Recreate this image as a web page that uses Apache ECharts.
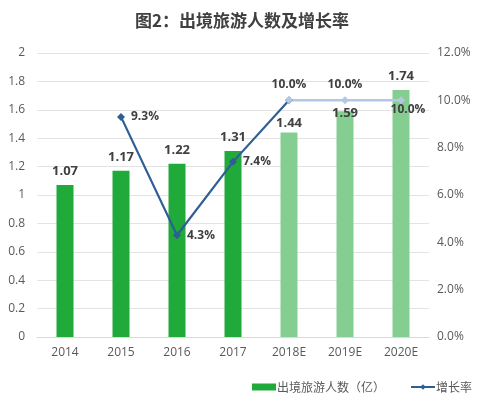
<!DOCTYPE html>
<html><head><meta charset="utf-8">
<script src="https://cdn.jsdelivr.net/npm/echarts@6/dist/echarts.min.js"></script>
<style>html,body{margin:0;padding:0;background:#fff}#c{width:484px;height:401px}</style>
</head><body><div id="c"></div>
<script>
var categories = ['2014','2015','2016','2017','2018E','2019E','2020E'];
var travelers = [1.07, 1.17, 1.22, 1.31, 1.44, 1.59, 1.74];
var growthActual = [null, 9.3, 4.3, 7.4, 10.0, null, null];
var growthForecast = [null, null, null, null, 10.0, 10.0, 10.0];
var forecastFrom = 4;

var font = '"Open Sans","Noto Sans CJK SC",sans-serif';
var chart = echarts.init(document.getElementById('c'));
var barData = travelers.map(function(v,i){
  var item = {value:v, itemStyle:{color: i>=forecastFrom ? '#85CE92' : '#1FAA3A'}};
  if (i===4) item.label = {distance:3};
  if (i===5) item.label = {position:'insideTop', distance:-4, offset:[0,0]};
  return item;
});
var fcData = growthForecast.map(function(v,i){
  if (v===null) return null;
  var item = {value:v};
  if (i===6) item.label = {position:'inside', offset:[7,9]};
  return item;
});
chart.setOption({
  animation:false,
  title:{text:'图2：出境旅游人数及增长率', left:'center', top:7,
    textStyle:{fontSize:17, fontWeight:'bold', color:'#404040', fontFamily:'"Noto Sans CJK SC",sans-serif'}},
  grid:{left:37, right:55, top:53, bottom:64},
  legend:{left:247, top:376, itemGap:25, itemWidth:24, itemHeight:7,
    textStyle:{fontSize:12, color:'#595959', fontFamily:'"Noto Sans CJK SC",sans-serif', padding:[0,0,0,-4]},
    data:[{name:'出境旅游人数（亿）', icon:'rect'}, {name:'增长率'}]},
  xAxis:{type:'category', data:categories,
    axisLine:{lineStyle:{color:'#d9d9d9'}}, axisTick:{show:false},
    axisLabel:{color:'#595959', fontSize:12, fontFamily:font, margin:10}},
  yAxis:[
    {type:'value', min:0, max:2, interval:0.2,
     axisLabel:{color:'#595959', fontSize:12, fontFamily:font, margin:12},
     splitLine:{lineStyle:{color:'#e3e3e3'}}},
    {type:'value', min:0, max:12, interval:2,
     axisLabel:{color:'#595959', fontSize:12, fontFamily:font, margin:8,
       formatter:function(v){return v.toFixed(1)+'%';}},
     splitLine:{show:false}}
  ],
  series:[
    {name:'出境旅游人数（亿）', type:'bar', data:barData, barWidth:17,
     itemStyle:{color:'#1FAA3A'},
     label:{show:true, position:'top', distance:7, fontSize:13, fontWeight:'bold', color:'#404040', fontFamily:font}},
    {name:'增长率', type:'line', yAxisIndex:1, data:growthActual,
     symbol:'diamond', symbolSize:8, lineStyle:{color:'#2E5F94', width:2.2},
     itemStyle:{color:'#2E5F94'},
     label:{show:true, position:'right', distance:6, fontSize:12, fontWeight:'bold', color:'#404040', fontFamily:font,
       formatter:function(p){return p.dataIndex>=forecastFrom ? '' : p.value.toFixed(1)+'%';}}},
    {name:'增长率预测', type:'line', yAxisIndex:1, data:fcData,
     symbol:'diamond', symbolSize:8, lineStyle:{color:'#B4C8E6', width:2.5},
     itemStyle:{color:'#B4C8E6'}, z:3,
     label:{show:true, position:'top', distance:6, fontSize:12, fontWeight:'bold', color:'#404040', fontFamily:font,
       formatter:function(p){return p.value.toFixed(1)+'%';}}}
  ]
});
</script></body></html>
